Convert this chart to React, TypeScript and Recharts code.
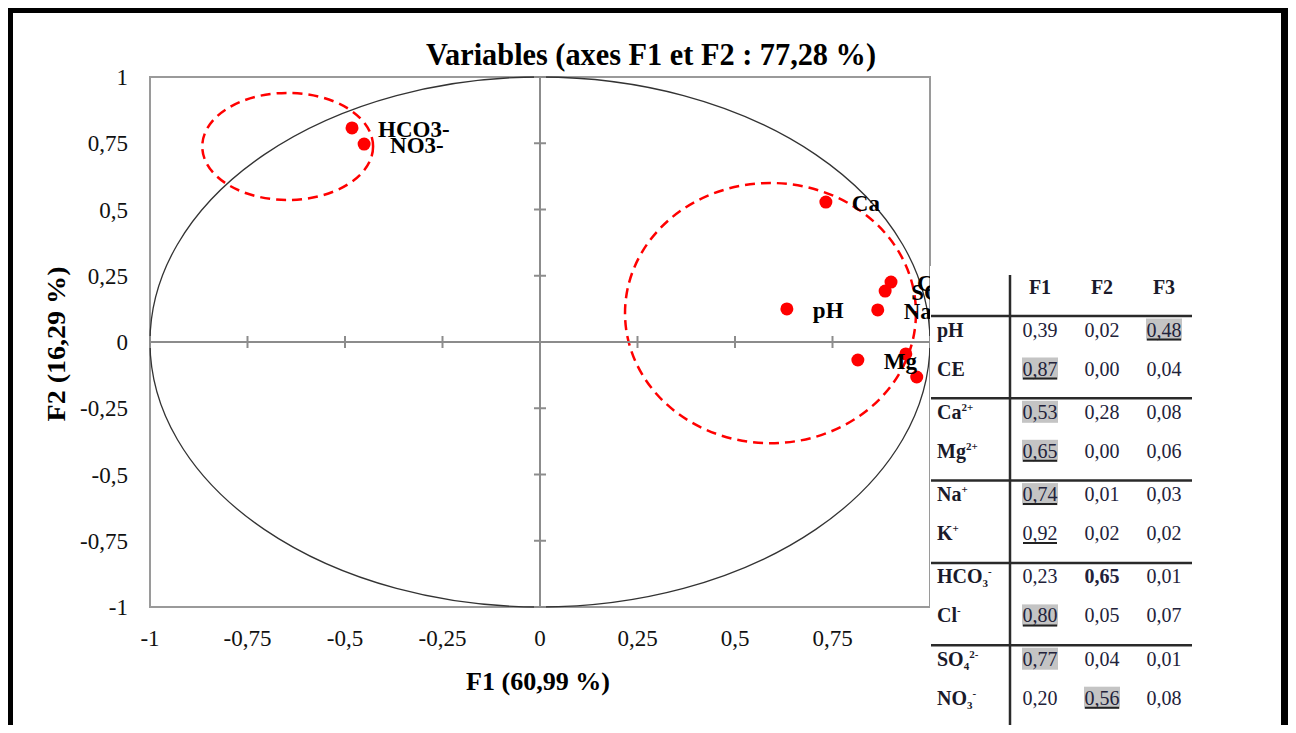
import React from 'react';
import {
  ScatterChart,
  Scatter,
  XAxis,
  YAxis,
  ReferenceArea,
  ReferenceLine,
  ReferenceDot,
} from 'recharts';

// ---------- chart data ----------
const variables = ['pH', 'CE', 'Ca', 'Mg', 'Na', 'K', 'HCO3-', 'Cl-', 'SO4--', 'NO3-'];
const f1Coords = [0.633, 0.938, 0.733, 0.815, 0.866, 0.966, -0.482, 0.9, 0.885, -0.451];
const f2Coords = [0.125, -0.045, 0.528, -0.068, 0.121, -0.132, 0.808, 0.226, 0.192, 0.747];

const axisTicks = [-1, -0.75, -0.5, -0.25, 0, 0.25, 0.5, 0.75, 1];
const axisTickLabels = ['-1', '-0,75', '-0,5', '-0,25', '0', '0,25', '0,5', '0,75', '1'];
// the "1" label of F1 is hidden behind the table in the original
const xLabelTicks = [-1, -0.75, -0.5, -0.25, 0, 0.25, 0.5, 0.75];

// group ellipses (in F1/F2 units)
const ellipseCx = [-0.647, 0.591];
const ellipseCy = [0.738, 0.109];
const ellipseRx = [0.219, 0.373];
const ellipseRy = [0.202, 0.491];

// ---------- table data ----------
const tableHeaders = ['F1', 'F2', 'F3'];
const rowBase = ['pH', 'CE', 'Ca', 'Mg', 'Na', 'K', 'HCO', 'Cl', 'SO', 'NO'];
const rowSub = ['', '', '', '', '', '', '3', '', '4', '3'];
const rowSup = ['', '', '2+', '2+', '+', '+', '-', '-', '2-', '-'];
const tableF1 = ['0,39', '0,87', '0,53', '0,65', '0,74', '0,92', '0,23', '0,80', '0,77', '0,20'];
const tableF2 = ['0,02', '0,00', '0,28', '0,00', '0,01', '0,02', '0,65', '0,05', '0,04', '0,56'];
const tableF3 = ['0,48', '0,04', '0,08', '0,06', '0,03', '0,02', '0,01', '0,07', '0,01', '0,08'];
// 0 = plain, 1 = shaded, 2 = shaded + underlined, 3 = underlined, 4 = bold
const cellMarks = [
  [0, 0, 2],
  [2, 0, 0],
  [1, 0, 0],
  [2, 0, 0],
  [2, 0, 0],
  [3, 0, 0],
  [0, 4, 0],
  [2, 0, 0],
  [1, 0, 0],
  [0, 2, 0],
];

const points = variables.map((name, i) => ({ name, x: f1Coords[i], y: f2Coords[i] }));

const SERIF = "'Liberation Serif', 'Times New Roman', serif";

const tickLabel = (v: number) => {
  const i = axisTicks.indexOf(v);
  return i >= 0 ? axisTickLabels[i] : String(v);
};

const XTick = (props: any) => {
  const { x, y, payload } = props;
  return (
    <text x={x} y={y + 39} textAnchor="middle" fontFamily={SERIF} fontSize={23} fill="#111">
      {tickLabel(payload.value)}
    </text>
  );
};

const YTick = (props: any) => {
  const { x, y, payload } = props;
  return (
    <text x={x - 22} y={y + 8} textAnchor="end" fontFamily={SERIF} fontSize={23} fill="#111">
      {tickLabel(payload.value)}
    </text>
  );
};

const ellipseShape = (stroke: string, width: number, dash?: string) => (p: any) => {
  const w = Math.abs(p.width);
  const h = Math.abs(p.height);
  const x0 = Math.min(p.x, p.x + p.width);
  const y0 = Math.min(p.y, p.y + p.height);
  return (
    <ellipse
      cx={x0 + w / 2}
      cy={y0 + h / 2}
      rx={w / 2}
      ry={h / 2}
      fill="none"
      stroke={stroke}
      strokeWidth={width}
      strokeDasharray={dash}
    />
  );
};

const DotShape = (p: any) => <circle cx={p.cx} cy={p.cy} r={6.5} fill="#FF0000" />;

const LabelShape = (p: any) => (
  <text
    x={p.cx + 26}
    y={p.cy + 9}
    fontFamily={SERIF}
    fontWeight="bold"
    fontSize={23}
    fill="#000"
  >
    {p.payload.name}
  </text>
);

const VTickMark = (p: any) => (
  <line x1={p.cx} x2={p.cx} y1={p.cy - 6} y2={p.cy + 6} stroke="#8c8c8c" strokeWidth={2} />
);
const HTickMark = (p: any) => (
  <line x1={p.cx - 6} x2={p.cx + 6} y1={p.cy} y2={p.cy} stroke="#8c8c8c" strokeWidth={2} />
);

const Chart = () => (
  <ScatterChart width={1296} height={733} margin={{ top: 77, right: 366, bottom: 66, left: 0 }}>
    <XAxis
      type="number"
      dataKey="x"
      domain={[-1, 1]}
      ticks={xLabelTicks}
      axisLine={false}
      tickLine={false}
      tickSize={0}
      tickMargin={0}
      height={60}
      tick={<XTick />}
      interval={0}
    />
    <YAxis
      type="number"
      dataKey="y"
      domain={[-1, 1]}
      ticks={axisTicks}
      axisLine={false}
      tickLine={false}
      tickSize={0}
      tickMargin={0}
      width={150}
      tick={<YTick />}
      interval={0}
    />
    <ReferenceArea
      x1={-1}
      x2={1}
      y1={-1}
      y2={1}
      fill="none"
      fillOpacity={0}
      stroke="#9a9a9a"
      strokeWidth={2}
      ifOverflow="visible"
    />
    <ReferenceLine x={0} stroke="#8c8c8c" strokeWidth={2} ifOverflow="visible" />
    <ReferenceLine y={0} stroke="#8c8c8c" strokeWidth={2} ifOverflow="visible" />
    {axisTicks.map((t) => (
      <ReferenceDot key={'vx' + t} x={t} y={0} ifOverflow="visible" shape={VTickMark} />
    ))}
    {axisTicks.map((t) => (
      <ReferenceDot key={'hy' + t} x={0} y={t} ifOverflow="visible" shape={HTickMark} />
    ))}
    <ReferenceArea
      x1={-1}
      x2={1}
      y1={-1}
      y2={1}
      ifOverflow="visible"
      shape={ellipseShape('#333', 1.3)}
    />
    {ellipseCx.map((cx, i) => (
      <ReferenceArea
        key={'el' + i}
        x1={cx - ellipseRx[i]}
        x2={cx + ellipseRx[i]}
        y1={ellipseCy[i] - ellipseRy[i]}
        y2={ellipseCy[i] + ellipseRy[i]}
        ifOverflow="visible"
        shape={ellipseShape('#FF0000', 2.5, '10 6')}
      />
    ))}
    <Scatter data={points} shape={DotShape} isAnimationActive={false} />
    <Scatter data={points} shape={LabelShape} isAnimationActive={false} legendType="none" />
  </ScatterChart>
);

const Titles = () => (
  <svg
    width={1296}
    height={733}
    style={{ position: 'absolute', left: 0, top: 0, pointerEvents: 'none' }}
  >
    <text
      x={651}
      y={65}
      textAnchor="middle"
      fontFamily={SERIF}
      fontWeight="bold"
      fontSize={31}
      textLength={450}
      lengthAdjust="spacingAndGlyphs"
    >
      Variables (axes F1 et F2 : 77,28 %)
    </text>
    <text
      x={538}
      y={690}
      textAnchor="middle"
      fontFamily={SERIF}
      fontWeight="bold"
      fontSize={26}
      textLength={144}
      lengthAdjust="spacingAndGlyphs"
    >
      F1 (60,99 %)
    </text>
    <text
      transform="translate(65,344) rotate(-90)"
      x={0}
      y={0}
      textAnchor="middle"
      fontFamily={SERIF}
      fontWeight="bold"
      fontSize={26}
      textLength={155}
      lengthAdjust="spacingAndGlyphs"
    >
      F2 (16,29 %)
    </text>
  </svg>
);

const TableOverlay = () => {
  const left = 931;
  const right = 1192;
  const top = 266;
  const bottom = 728;
  const headerLine = 316;
  const groupH = 82.3;
  const colX = [1040, 1102, 1164];
  const divX = 1010;
  const rowCenter = (i: number) =>
    headerLine + Math.floor(i / 2) * groupH + (i % 2 === 0 ? 13.5 : 52.5);
  const cols = [tableF1, tableF2, tableF3];
  const lineColor = '#2a2a2a';
  return (
    <svg
      width={1296}
      height={733}
      style={{ position: 'absolute', left: 0, top: 0, pointerEvents: 'none' }}
    >
      <rect x={left - 1} y={top} width={right - left + 20} height={bottom - top} fill="#fff" />
      {tableHeaders.map((h, c) => (
        <text
          key={h}
          x={colX[c]}
          y={294}
          textAnchor="middle"
          fontFamily={SERIF}
          fontWeight="bold"
          fontSize={20}
          fill="#1a1a2a"
        >
          {h}
        </text>
      ))}
      {[0, 1, 2, 3, 4].map((g) => (
        <line
          key={'g' + g}
          x1={left}
          x2={right}
          y1={headerLine + g * groupH}
          y2={headerLine + g * groupH}
          stroke={lineColor}
          strokeWidth={2.5}
        />
      ))}
      <line x1={divX} x2={divX} y1={275} y2={bottom} stroke={lineColor} strokeWidth={2.5} />
      <line x1={left} x2={right} y1={bottom - 0.5} y2={bottom - 0.5} stroke="#aaa" strokeWidth={2} />
      {rowBase.map((b, i) => {
        const cy = rowCenter(i);
        return (
          <g key={'r' + i}>
            <text x={937} y={cy + 7} fontFamily={SERIF} fontWeight="bold" fontSize={20} fill="#1a1a2a">
              {b}
              {rowSub[i] ? (
                <tspan fontSize={11} dy={4}>
                  {rowSub[i]}
                </tspan>
              ) : null}
              {rowSup[i] ? (
                <tspan fontSize={11} dy={rowSub[i] ? -12 : -8}>
                  {rowSup[i]}
                </tspan>
              ) : null}
            </text>
            {cols.map((col, c) => {
              const m = cellMarks[i][c];
              const cx = colX[c];
              return (
                <g key={'c' + c}>
                  {(m === 1 || m === 2) && (
                    <rect x={cx - 18} y={cy - 11} width={36} height={22} fill="#c4c4c4" />
                  )}
                  <text
                    x={cx}
                    y={cy + 7}
                    textAnchor="middle"
                    fontFamily={SERIF}
                    fontSize={20}
                    fontWeight={m === 4 ? 'bold' : 'normal'}
                    fill="#22223a"
                  >
                    {col[i]}
                  </text>
                  {(m === 2 || m === 3) && (
                    <line
                      x1={cx - 17}
                      x2={cx + 17}
                      y1={cy + 10}
                      y2={cy + 10}
                      stroke="#222"
                      strokeWidth={2}
                    />
                  )}
                </g>
              );
            })}
          </g>
        );
      })}
    </svg>
  );
};

export default function App() {
  return (
    <div
      style={{
        position: 'relative',
        width: 1296,
        height: 733,
        margin: -8,
        overflow: 'hidden',
        background: '#fff',
        fontFamily: SERIF,
      }}
    >
      <div style={{ position: 'absolute', left: 0, top: 0 }}>
        <Chart />
      </div>
      <Titles />
      <TableOverlay />
      <div
        style={{
          position: 'absolute',
          left: 13,
          top: 727,
          width: 1269,
          height: 3,
          background: '#a0a0a0',
        }}
      />
      <div
        style={{
          position: 'absolute',
          left: 5,
          top: 5,
          width: 1284,
          height: 733,
          boxSizing: 'border-box',
          border: '8px solid #000',
          boxShadow: '3px 2px 3px #999',
        }}
      />
    </div>
  );
}
